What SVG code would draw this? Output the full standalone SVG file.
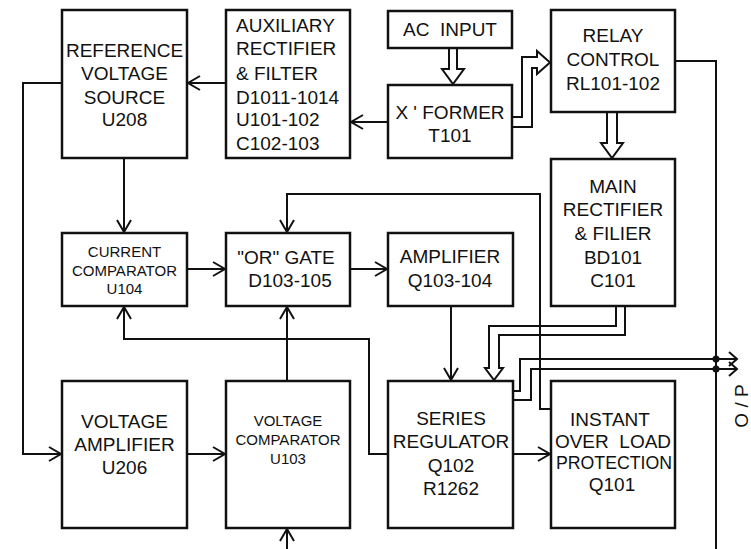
<svg xmlns="http://www.w3.org/2000/svg" width="751" height="549" viewBox="0 0 751 549">
<style>
.b{fill:#fff;stroke:#111;stroke-width:2.5}
.t{font-family:"Liberation Sans",Arial,sans-serif;font-size:19px;fill:#111;text-anchor:middle;white-space:pre}
.s{font-size:15px}
.l{text-anchor:start}
.c{fill:none;stroke:#111;stroke-width:2}
</style>
<defs>
<marker id="a" markerWidth="16" markerHeight="18" refX="13" refY="8" orient="auto" markerUnits="userSpaceOnUse" overflow="visible">
<path d="M1,1 L13,8 L1,15" fill="none" stroke="#111" stroke-width="2"/>
</marker>
</defs>
<rect width="751" height="549" fill="#fff"/>
<g id="connectors">
<path class="c" d="M226,83 H188" marker-end="url(#a)"/>
<path class="c" d="M388,122 H351" marker-end="url(#a)"/>
<path class="c" d="M62,83 H23 V454 H61" marker-end="url(#a)"/>
<path class="c" d="M124,158 V232" marker-end="url(#a)"/>
<path class="c" d="M187,269 H225" marker-end="url(#a)"/>
<path class="c" d="M350,269 H387" marker-end="url(#a)"/>
<path class="c" d="M551,409 H540 V194 H287 V232" marker-end="url(#a)"/>
<path class="c" d="M388,454 H369 V339 H124 V307" marker-end="url(#a)"/>
<path class="c" d="M287,381 V307" marker-end="url(#a)"/>
<path class="c" d="M187,454 H225" marker-end="url(#a)"/>
<path class="c" d="M287,549 V529" marker-end="url(#a)"/>
<path class="c" d="M451,306 V380" marker-end="url(#a)"/>
<path class="c" d="M513,454 H550" marker-end="url(#a)"/>
<path class="c" d="M449,48 V69 H442 L453,84 L464,69 H457 V48"/>
<path class="c" d="M607,112 V143 H601 L612,158 L623,143 H617 V112"/>
<path class="c" d="M512,117 H522 V57 H537 V51 L550,62.5 L537,74 V68 H532 V127 H512"/>
<path class="c" d="M616,306 V326 H489 V368 H485 L494,380 L503,368 H499 V335 H625 V306"/>
<path class="c" d="M513,391 H520 V359 H737"/>
<path class="c" d="M513,400 H531 V369 H737"/>
<path class="c" d="M729,352 L737,359 L729,366"/>
<path class="c" d="M729,362 L737,369 L729,376"/>
<path class="c" d="M675,61 H716 V549"/>
<circle cx="716" cy="359" r="3.5" fill="#111"/>
<circle cx="716" cy="369" r="3.5" fill="#111"/>
<text class="t" transform="translate(748,406) rotate(-90)">O / P</text>
</g>
<g id="ref">
<rect class="b" x="62" y="10" width="125" height="148"/>
<text class="t" x="124.5" y="57">REFERENCE</text>
<text class="t" x="124.5" y="80">VOLTAGE</text>
<text class="t" x="124.5" y="104">SOURCE</text>
<text class="t" x="124.5" y="126">U208</text>
</g>
<g id="aux">
<rect class="b" x="226" y="10" width="124" height="148"/>
<text class="t l" x="236" y="32">AUXILIARY</text>
<text class="t l" x="236" y="55">RECTIFIER</text>
<text class="t l" x="236" y="80">&amp; FILTER</text>
<text class="t l" x="236" y="104">D1011-1014</text>
<text class="t l" x="236" y="126">U101-102</text>
<text class="t l" x="236" y="150">C102-103</text>
</g>
<g id="acinput">
<rect class="b" x="388" y="11" width="124" height="37"/>
<text class="t" x="450" y="36" xml:space="preserve">AC  INPUT</text>
</g>
<g id="xformer">
<rect class="b" x="388" y="85" width="124" height="73"/>
<text class="t" x="450" y="119">X ' FORMER</text>
<text class="t" x="450" y="142">T101</text>
</g>
<g id="relay">
<rect class="b" x="551" y="10" width="124" height="102"/>
<text class="t" x="613" y="42">RELAY</text>
<text class="t" x="613" y="66">CONTROL</text>
<text class="t" x="613" y="90">RL101-102</text>
</g>
<g id="mainrect">
<rect class="b" x="551" y="159" width="124" height="147"/>
<text class="t" x="613" y="193">MAIN</text>
<text class="t" x="613" y="216">RECTIFIER</text>
<text class="t" x="613" y="240">&amp; FILIER</text>
<text class="t" x="613" y="264">BD101</text>
<text class="t" x="613" y="287">C101</text>
</g>
<g id="curcomp">
<rect class="b" x="62" y="233" width="125" height="73"/>
<text class="t s" x="124.5" y="257">CURRENT</text>
<text class="t s" x="124.5" y="276">COMPARATOR</text>
<text class="t s" x="124.5" y="294">U104</text>
</g>
<g id="orgate">
<rect class="b" x="226" y="233" width="124" height="73"/>
<text class="t" x="286" y="264">"OR" GATE</text>
<text class="t" x="290" y="287">D103-105</text>
</g>
<g id="amplifier">
<rect class="b" x="388" y="233" width="125" height="73"/>
<text class="t" x="450" y="263">AMPLIFIER</text>
<text class="t" x="450" y="287">Q103-104</text>
</g>
<g id="voltamp">
<rect class="b" x="62" y="381" width="125" height="147"/>
<text class="t" x="124.5" y="428">VOLTAGE</text>
<text class="t" x="124.5" y="451">AMPLIFIER</text>
<text class="t" x="124.5" y="474">U206</text>
</g>
<g id="voltcomp">
<rect class="b" x="226" y="381" width="124" height="147"/>
<text class="t s" x="288" y="426">VOLTAGE</text>
<text class="t s" x="288" y="445">COMPARATOR</text>
<text class="t s" x="288" y="464">U103</text>
</g>
<g id="series">
<rect class="b" x="388" y="381" width="125" height="147"/>
<text class="t" x="451" y="425">SERIES</text>
<text class="t" x="451" y="448">REGULATOR</text>
<text class="t" x="451" y="472">Q102</text>
<text class="t" x="451" y="495">R1262</text>
</g>
<g id="overload">
<rect class="b" x="551" y="381" width="124" height="147"/>
<text class="t" x="610" y="426">INSTANT</text>
<text class="t" x="613" y="448" xml:space="preserve">OVER  LOAD</text>
<text class="t" x="614" y="469" textLength="116" lengthAdjust="spacingAndGlyphs">PROTECTION</text>
<text class="t" x="612" y="491">Q101</text>
</g>
</svg>
